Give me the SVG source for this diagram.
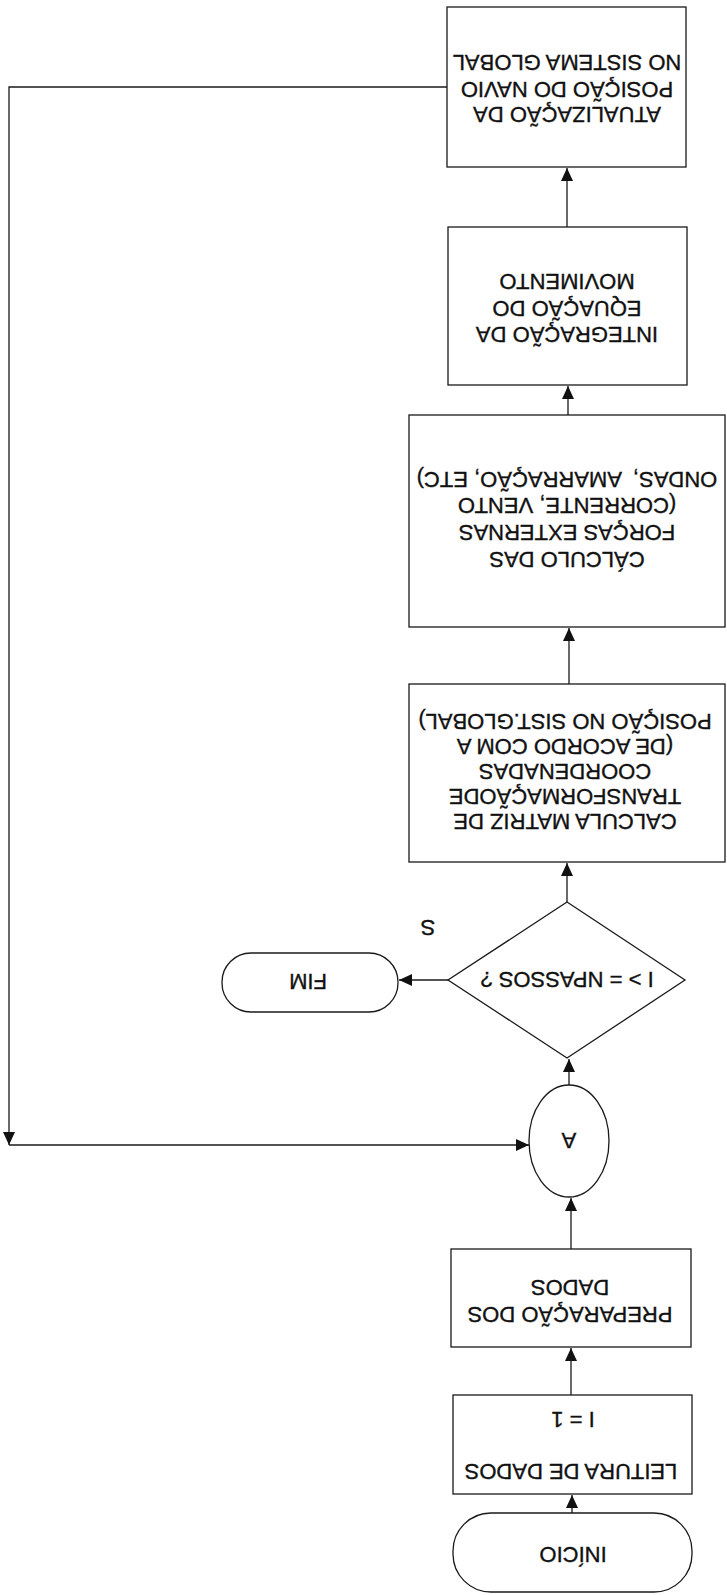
<svg xmlns="http://www.w3.org/2000/svg" width="727" height="1595" viewBox="0 0 727 1595">
<style>
.s{fill:#fff;stroke:#1a1a1a;stroke-width:1.3}
.t{font-family:"Liberation Sans",Arial,sans-serif;font-size:22px;fill:#111;stroke:#111;stroke-width:0.35;text-anchor:middle}
.c{fill:none;stroke:#1a1a1a;stroke-width:1.3}
</style>
<defs>
<marker id="ah" markerUnits="userSpaceOnUse" markerWidth="14" markerHeight="12" refX="13" refY="6" orient="auto">
<path d="M0,0 L13,6 L0,12 z" fill="#111"/>
</marker>
</defs>
<rect width="727" height="1595" fill="#fff"/>
<g id="connectors">
<path class="c" d="M567,227 V168" marker-end="url(#ah)"/>
<path class="c" d="M568,415 V386" marker-end="url(#ah)"/>
<path class="c" d="M569,684 V628" marker-end="url(#ah)"/>
<path class="c" d="M567,902 V863" marker-end="url(#ah)"/>
<path class="c" d="M448,980 H399" marker-end="url(#ah)"/>
<path class="c" d="M569,1085 V1059" marker-end="url(#ah)"/>
<path class="c" d="M571,1249 V1198" marker-end="url(#ah)"/>
<path class="c" d="M571,1395 V1348" marker-end="url(#ah)"/>
<path class="c" d="M572,1513 V1495" marker-end="url(#ah)"/>
<path class="c" d="M447,87 H9 V1145" marker-end="url(#ah)"/>
<path class="c" d="M9,1145 H529" marker-end="url(#ah)"/>
</g>
<g id="atualizacao">
<rect class="s" x="447" y="7" width="239" height="160"/>
<text class="t" x="567" y="70.9" transform="rotate(180 567 63)">NO SISTEMA GLOBAL</text>
<text class="t" x="567" y="97.9" transform="rotate(180 567 90)">POSIÇÃO DO NAVIO</text>
<text class="t" x="567" y="122.9" transform="rotate(180 567 115)">ATUALIZAÇÃO DA</text>
</g>
<g id="integracao">
<rect class="s" x="448" y="227" width="239" height="158"/>
<text class="t" x="567" y="289.9" transform="rotate(180 567 282)">MOVIMENTO</text>
<text class="t" x="567" y="316.9" transform="rotate(180 567 309)">EQUAÇÃO DO</text>
<text class="t" x="567" y="342.9" transform="rotate(180 567 335)">INTEGRAÇÃO DA</text>
</g>
<g id="calculo-forcas">
<rect class="s" x="409" y="415" width="316" height="212"/>
<text class="t" x="567" y="487.9" transform="rotate(180 567 480)" style="white-space:pre">ONDAS,  AMARRAÇÃO, ETC)</text>
<text class="t" x="567" y="513.9" transform="rotate(180 567 506)">(CORRENTE, VENTO</text>
<text class="t" x="567" y="540.9" transform="rotate(180 567 533)">FORÇAS EXTERNAS</text>
<text class="t" x="567" y="567.9" transform="rotate(180 567 560)">CÁLCULO DAS</text>
</g>
<g id="calcula-matriz">
<rect class="s" x="409" y="684" width="316" height="178"/>
<text class="t" x="565" y="729.9" transform="rotate(180 565 722)">POSIÇÃO NO SIST.GLOBAL)</text>
<text class="t" x="565" y="754.9" transform="rotate(180 565 747)">(DE ACORDO COM A</text>
<text class="t" x="565" y="779.9" transform="rotate(180 565 772)">COORDENADAS</text>
<text class="t" x="565" y="804.9" transform="rotate(180 565 797)">TRANSFORMAÇÃODE</text>
<text class="t" x="565" y="829.9" transform="rotate(180 565 822)">CALCULA MATRIZ DE</text>
</g>
<g id="decisao">
<polygon class="s" points="567,902 685,980 567,1058 448,980"/>
<text class="t" x="567" y="987.9" transform="rotate(180 567 980)">I &gt; = NPASSOS ?</text>
</g>
<g id="label-s">
<text class="t" x="428" y="935.9" transform="rotate(180 428 928)">S</text>
</g>
<g id="fim">
<rect class="s" x="222" y="953" width="176" height="59" rx="29" ry="29"/>
<text class="t" x="308" y="989.9" transform="rotate(180 308 982)">FIM</text>
</g>
<g id="conector-a">
<ellipse class="s" cx="569" cy="1141" rx="40" ry="56"/>
<text class="t" x="569" y="1148.9" transform="rotate(180 569 1141)">A</text>
</g>
<g id="preparacao">
<rect class="s" x="451" y="1249" width="240" height="98"/>
<text class="t" x="570" y="1295.9" transform="rotate(180 570 1288)">DADOS</text>
<text class="t" x="570" y="1322.9" transform="rotate(180 570 1315)">PREPARAÇÃO DOS</text>
</g>
<g id="leitura">
<rect class="s" x="453" y="1395" width="239" height="99"/>
<text class="t" x="573" y="1427.9" transform="rotate(180 573 1420)">I = 1</text>
<text class="t" x="571" y="1479.9" transform="rotate(180 571 1472)">LEITURA DE DADOS</text>
</g>
<g id="inicio">
<rect class="s" x="453" y="1513" width="239" height="79" rx="38" ry="38"/>
<text class="t" x="573" y="1562.9" transform="rotate(180 573 1555)">INÍCIO</text>
</g>
</svg>
